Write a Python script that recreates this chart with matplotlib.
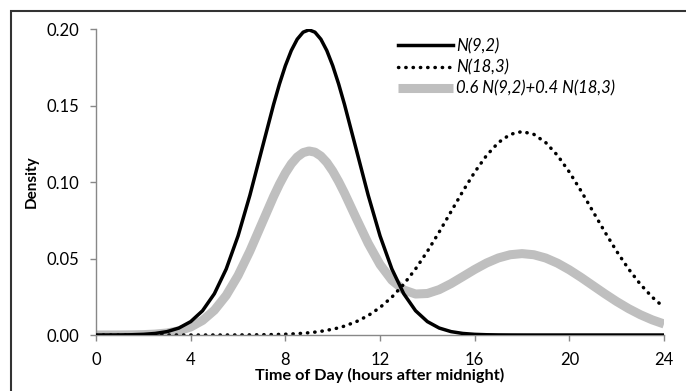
import matplotlib
matplotlib.use("Agg")
import matplotlib.pyplot as plt
from matplotlib.patches import Rectangle

# hours after midnight (half-hour steps, quarter-hour around the 9h peak)
hours = [0, 0.5, 1, 1.5, 2, 2.5, 3, 3.5, 4, 4.5, 5, 5.5, 6, 6.5, 7, 7.5, 7.75,
         8, 8.25, 8.5, 8.75, 9, 9.25, 9.5, 9.75, 10, 10.25, 10.5,
         11, 11.5, 12, 12.5, 13, 13.5, 14, 14.5, 15, 15.5, 16, 16.5, 17, 17.5,
         18, 18.5, 19, 19.5, 20, 20.5, 21, 21.5, 22, 22.5, 23, 23.5, 24]

# N(9,2) density
n92 = [0.000008, 0.000024, 0.000067, 0.000176, 0.000436, 0.001015, 0.002216, 0.004548,
       0.008764, 0.01587, 0.02700, 0.04314, 0.06476, 0.09132, 0.12099, 0.15057, 0.16408,
       0.17603, 0.18593, 0.19333, 0.19792, 0.19947, 0.19792, 0.19333, 0.18593, 0.17603, 0.16408, 0.15057,
       0.12099, 0.09132, 0.06476, 0.04314, 0.02700, 0.01587, 0.008764, 0.004548, 0.002216, 0.001015,
       0.000436, 0.000176, 0.000067, 0.000024,
       0.000008, 0.0, 0.0, 0.0, 0.0, 0.0, 0.0, 0.0, 0.0, 0.0, 0.0, 0.0, 0.0]

# N(18,3) density
n183 = [0.0, 0.0, 0.0, 0.0, 0.0, 0.0, 0.0, 0.0,
        0.0, 0.000001, 0.000003, 0.00001, 0.000045, 0.000085, 0.00016, 0.000291, 0.0004,
        0.000514, 0.00068, 0.000883, 0.00115, 0.001477, 0.0019, 0.002401, 0.0031, 0.003799, 0.0047, 0.005843,
        0.008741, 0.012718, 0.017997, 0.02476, 0.03316, 0.04318, 0.05467, 0.06734, 0.08066, 0.09398,
        0.10648, 0.11735, 0.12579, 0.13114,
        0.13298, 0.13114, 0.12579, 0.11735, 0.10648, 0.09398, 0.08066, 0.06734, 0.05467, 0.04318,
        0.03316, 0.02476, 0.017997]

# 0.6 N(9,2) + 0.4 N(18,3)
mix = [0.000005, 0.000014, 0.00004, 0.000106, 0.000262, 0.000609, 0.00133, 0.002729,
       0.005258, 0.009522, 0.0162, 0.02589, 0.03888, 0.05483, 0.07266, 0.09046, 0.0986,
       0.10582, 0.11183, 0.11635, 0.11921, 0.12027, 0.11951, 0.11696, 0.1128, 0.10714, 0.10033, 0.09268,
       0.07609, 0.05988, 0.04606, 0.03579, 0.02946, 0.02679, 0.02713, 0.02966, 0.03359, 0.03820,
       0.04285, 0.04705, 0.05036, 0.05247,
       0.05320, 0.05246, 0.05032, 0.04694, 0.04259, 0.03759, 0.03226, 0.02694, 0.02187, 0.01727,
       0.01326, 0.00990, 0.00720]

x_ticks = [0, 4, 8, 12, 16, 20, 24]
y_ticks = [0.00, 0.05, 0.10, 0.15, 0.20]

plt.rcParams['font.family'] = ['Lato', 'DejaVu Sans']

fig = plt.figure(figsize=(6.86, 3.91), dpi=100)
ax = fig.add_axes([0.140, 0.1432, 0.828, 0.7826])

# outer chart border
fig.patches.append(Rectangle((11 / 686, -0.1), 1.2, 1.1 - 11 / 391, transform=fig.transFigure,
                             fill=False, edgecolor='#333333', linewidth=1.5))

ax.plot(hours, n92, color='black', linewidth=2.5, label='N(9,2)', zorder=3)
ax.plot(hours, n183, color='black', linewidth=2.5, linestyle=(0, (0.1, 2.0)),
        dash_capstyle='round', label='N(18,3)', zorder=2)
ax.plot(hours, mix, color='#bfbfbf', linewidth=6.5, solid_capstyle='butt',
        label='0.6 N(9,2)+0.4 N(18,3)', zorder=1)

ax.set_xlim(0, 24)
ax.set_ylim(0, 0.2)
ax.set_xticks(x_ticks)
ax.set_yticks(y_ticks)
ax.set_yticklabels(['%.2f' % v for v in y_ticks])
ax.tick_params(axis='both', colors='#888888', length=4, width=1, labelsize=12, labelcolor='black')
ax.tick_params(axis='x', pad=8)
ax.tick_params(axis='y', pad=8)
for s in ['top', 'right']:
    ax.spines[s].set_visible(False)
for s in ['left', 'bottom']:
    ax.spines[s].set_color('#888888')
    ax.spines[s].set_linewidth(1)

ax.set_xlabel('Time of Day (hours after midnight)', fontsize=11.7, fontweight='bold', labelpad=0)
ax.set_ylabel('Density', fontsize=11, fontweight='bold', labelpad=6)

leg = ax.legend(loc='upper left', bbox_to_anchor=(0.505, 1.02), frameon=False,
                handlelength=3.3, handletextpad=0.2, labelspacing=0.32,
                prop={'style': 'italic', 'size': 12})

fig.savefig('out.png', dpi=100)
